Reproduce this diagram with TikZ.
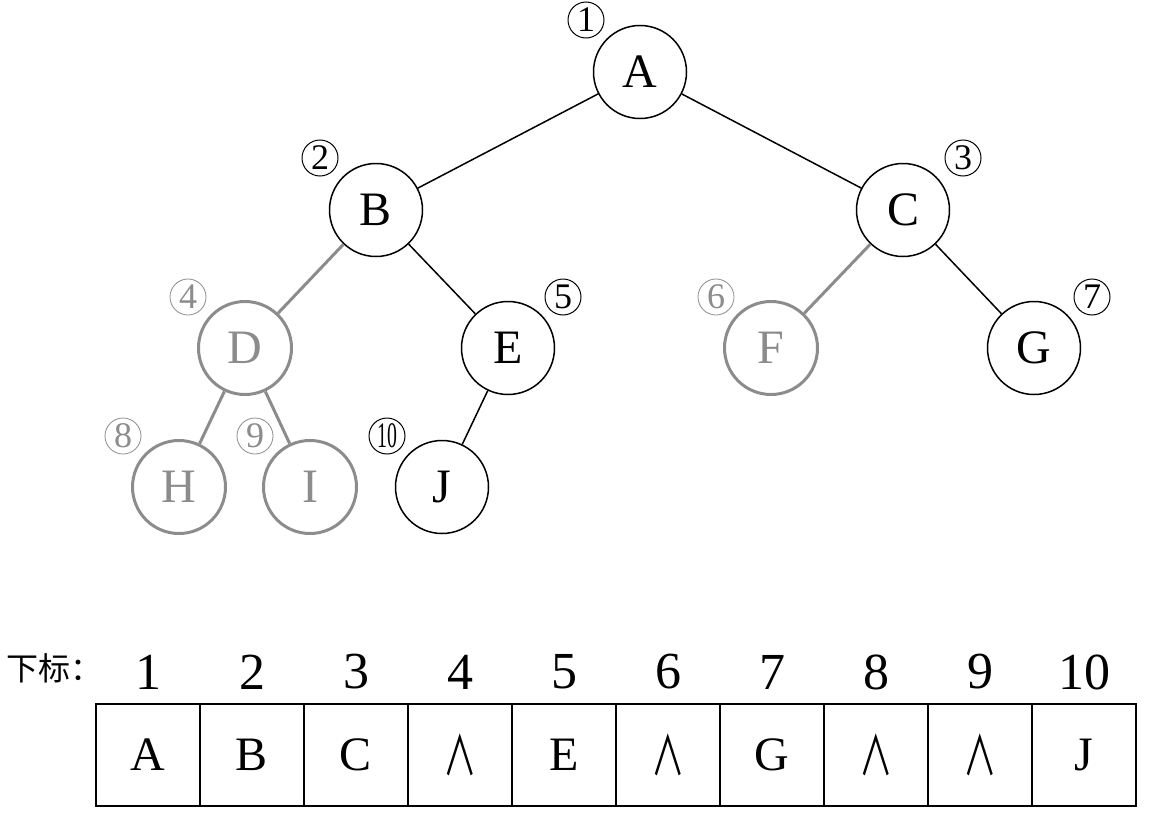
\documentclass[tikz,border=0pt]{standalone}
\usepackage{fontspec}
\setmainfont{Liberation Serif}
\newfontfamily\cjk{Noto Sans CJK SC}
\definecolor{lgray}{RGB}{140,140,140}
\newcommand{\andsym}{\scalebox{0.62}[1]{\cjk\fontsize{54}{54}\selectfont ∧}}
\begin{document}
\begin{tikzpicture}[x=1pt,y=-1pt,
  tnode/.style={circle,draw=black,line width=1.5pt,minimum size=93pt,inner sep=0pt,font=\fontsize{48}{48}\selectfont},
  gnode/.style={tnode,draw=lgray,line width=3pt,text=lgray},
  bedge/.style={line width=1.5pt,draw=black},
  gedge/.style={line width=3pt,draw=lgray},
  num/.style={circle,draw=black,line width=1pt,minimum size=36pt,inner sep=0pt,font=\fontsize{36}{36}\selectfont},
  gnum/.style={num,draw=lgray,line width=0.8pt,text=lgray},
  cell/.style={draw=black,line width=1.2pt,minimum width=104pt,minimum height=102pt,inner sep=0pt,font=\fontsize{48}{48}\selectfont},
  idx/.style={inner sep=0pt,font=\fontsize{52}{52}\selectfont}
]
\useasboundingbox (0,0) rectangle (1152,819);
\node[tnode] (A) at (640,72) {A};
\node[tnode] (B) at (376,210) {B};
\node[tnode] (C) at (903,210) {C};
\node[gnode] (D) at (245,348) {D};
\node[tnode] (E) at (508,348) {E};
\node[gnode] (F) at (771,348) {F};
\node[tnode] (G) at (1034,348) {G};
\node[gnode] (H) at (179,487) {H};
\node[gnode] (I) at (310,487) {I};
\node[tnode] (J) at (442,487) {J};
\draw[bedge] (A) -- (B);
\draw[bedge] (A) -- (C);
\draw[gedge] (B) -- (D);
\draw[bedge] (B) -- (E);
\draw[gedge] (C) -- (F);
\draw[bedge] (C) -- (G);
\draw[gedge] (D) -- (H);
\draw[gedge] (D) -- (I);
\draw[bedge] (E) -- (J);
\node[num] (n1) at (586,20) {1};
\node[num] (n2) at (320,158) {2};
\node[num] (n3) at (963,158) {3};
\node[gnum] (n4) at (188,297) {4};
\node[num] (n5) at (563,297) {5};
\node[gnum] (n6) at (716,297) {6};
\node[num] (n7) at (1092,297) {7};
\node[gnum] (n8) at (123,436) {8};
\node[gnum] (n9) at (255,436) {9};
\node[num] (n10) at (387,436) {\scalebox{0.55}[1]{10}};
\node[inner sep=0pt,anchor=west,font=\cjk\fontsize{32}{32}\selectfont] (lbl) at (6,668) {下标：};
\foreach \i/\t in {1/A,2/B,3/C,4/\andsym,5/E,6/\andsym,7/G,8/\andsym,9/\andsym,10/J}{
  \node[cell] (c\i) at ({96+104*(\i-1)+52},755) {\t};
  \node[idx] (i\i) at ({96+104*(\i-1)+52},672) {\i};
}
\end{tikzpicture}
\end{document}
